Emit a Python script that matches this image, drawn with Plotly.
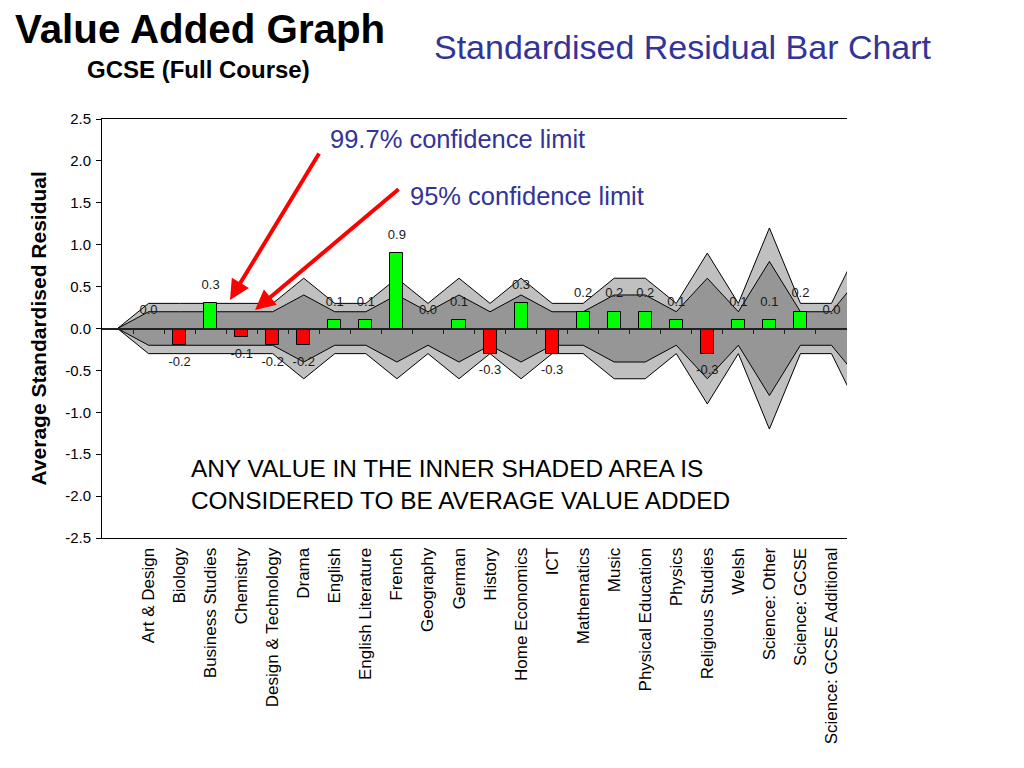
import plotly.graph_objects as go

# ---------------- data ----------------
categories = ["Art & Design", "Biology", "Business Studies", "Chemistry",
              "Design & Technology", "Drama", "English", "English Literature",
              "French", "Geography", "German", "History", "Home Economics",
              "ICT", "Mathematics", "Music", "Physical Education", "Physics",
              "Religious Studies", "Welsh", "Science: Other", "Science: GCSE",
              "Science: GCSE Additional"]
residuals = [0.0, -0.2, 0.3, -0.1, -0.2, -0.2, 0.1, 0.1, 0.9, 0.0, 0.1, -0.3,
             0.3, -0.3, 0.2, 0.2, 0.2, 0.1, -0.3, 0.1, 0.1, 0.2, 0.0]

# confidence envelopes: point 0 is the start, 1..23 the subjects, 24 the next (clipped) point
env_pos = list(range(25))
outer_upper = [0.0, 0.3, 0.3, 0.3, 0.3, 0.3, 0.6, 0.3, 0.3, 0.6, 0.3, 0.6, 0.3,
               0.6, 0.3, 0.3, 0.6, 0.6, 0.3, 0.9, 0.3, 1.2, 0.3, 0.3, 1.05]
outer_lower = [0.0, -0.3, -0.3, -0.3, -0.3, -0.3, -0.6, -0.3, -0.3, -0.6, -0.3, -0.6, -0.3,
               -0.6, -0.3, -0.3, -0.6, -0.6, -0.3, -0.9, -0.3, -1.2, -0.3, -0.3, -1.05]
inner_upper = [0.0, 0.2, 0.2, 0.2, 0.2, 0.2, 0.4, 0.2, 0.2, 0.4, 0.2, 0.4, 0.2,
               0.4, 0.2, 0.2, 0.4, 0.4, 0.2, 0.6, 0.2, 0.8, 0.2, 0.2, 0.65]
inner_lower = [0.0, -0.2, -0.2, -0.2, -0.2, -0.2, -0.4, -0.2, -0.2, -0.4, -0.2, -0.4, -0.2,
               -0.4, -0.2, -0.2, -0.4, -0.4, -0.2, -0.6, -0.2, -0.8, -0.2, -0.2, -0.65]
y_ticks = [2.5, 2.0, 1.5, 1.0, 0.5, 0.0, -0.5, -1.0, -1.5, -2.0, -2.5]

# ---------------- styling ----------------
FONT = "Liberation Sans, Arial, sans-serif"
BLUE = "#333399"
bar_pos = list(range(1, len(categories) + 1))
bar_colors = ["#00FF00" if v > 0 else "#FF0000" for v in residuals]
bar_text = [f"{v:.1f}" for v in residuals]
text_pos = ["bottom center" if v < 0 else "top center" for v in residuals]

fig = go.Figure()

# outer (99.7%) band
fig.add_trace(go.Scatter(
    x=env_pos + env_pos[::-1], y=outer_upper + outer_lower[::-1],
    fill="toself", fillcolor="#C0C0C0", mode="lines",
    line=dict(color="black", width=1), hoverinfo="skip", showlegend=False))
# inner (95%) band
fig.add_trace(go.Scatter(
    x=env_pos + env_pos[::-1], y=inner_upper + inner_lower[::-1],
    fill="toself", fillcolor="#969696", mode="lines",
    line=dict(color="black", width=1), hoverinfo="skip", showlegend=False))

# bars on overlay axes so they draw above the bands
fig.add_trace(go.Bar(
    x=bar_pos, y=residuals, width=0.42, xaxis="x2", yaxis="y2",
    marker=dict(color=bar_colors, line=dict(color="black", width=1)),
    showlegend=False))
# value labels (invisible markers give the offset from bar ends)
fig.add_trace(go.Scatter(
    x=bar_pos, y=residuals, xaxis="x2", yaxis="y2",
    mode="markers+text", marker=dict(size=16, opacity=0),
    text=bar_text, textposition=text_pos,
    textfont=dict(family=FONT, size=13, color="#1a1a1a"),
    cliponaxis=False, hoverinfo="skip", showlegend=False))

fig.update_layout(
    width=1024, height=768,
    margin=dict(l=94, r=185, t=111, b=238),
    paper_bgcolor="white", plot_bgcolor="white",
    font=dict(family=FONT, color="black"),
    xaxis=dict(range=[-0.5, 23.5], tickmode="array", tickvals=bar_pos,
               ticktext=categories, tickangle=-90, ticks="",
               tickfont=dict(size=17, family=FONT, color="black"),
               ticklabelstandoff=2, automargin=False,
               showline=True, mirror=True, linecolor="black", linewidth=1,
               showgrid=False, zeroline=False),
    yaxis=dict(range=[-2.5, 2.5], tickmode="array", tickvals=y_ticks,
               ticktext=[f"{t:.1f}" for t in y_ticks],
               ticks="outside", ticklen=5, tickcolor="black",
               ticklabelstandoff=2, automargin=False,
               tickfont=dict(size=15, family=FONT, color="black"),
               showline=True, linecolor="black", linewidth=1,
               showgrid=False, zeroline=False),
    xaxis2=dict(overlaying="x", anchor="free", position=0.5,
                range=[-0.5, 23.5], tickmode="array",
                tickvals=[i + 0.5 for i in range(23)],
                ticks="outside", ticklen=5, tickcolor="#222",
                showticklabels=False, showline=True, linecolor="#222",
                linewidth=1.5, showgrid=False, zeroline=False),
    yaxis2=dict(overlaying="y", range=[-2.5, 2.5], visible=False),
    bargap=0,
)

ann = []
ann.append(dict(text="<b>Value Added Graph</b>", x=-0.1195, y=1.214,
                xref="paper", yref="paper", xanchor="left", yanchor="middle",
                showarrow=False, font=dict(size=40.3, family=FONT, color="black")))
ann.append(dict(text="<b>GCSE (Full Course)</b>", x=0.1302, y=1.117,
                xref="paper", yref="paper", xanchor="center", yanchor="middle",
                showarrow=False, font=dict(size=24, family=FONT, color="black")))
ann.append(dict(text="Standardised Residual Bar Chart", x=0.7799, y=1.1718,
                xref="paper", yref="paper", xanchor="center", yanchor="middle",
                showarrow=False, font=dict(size=34, family=FONT, color=BLUE)))
ann.append(dict(text="<b>Average Standardised Residual</b>", x=-0.0859, y=0.5,
                xref="paper", yref="paper", xanchor="center", yanchor="middle",
                textangle=-90, showarrow=False,
                font=dict(size=21, family=FONT, color="black")))
ann.append(dict(text="99.7% confidence limit", x=0.3034, y=0.952,
                xref="paper", yref="paper", xanchor="left", yanchor="middle",
                showarrow=False, font=dict(size=25.5, family=FONT, color=BLUE)))
ann.append(dict(text="95% confidence limit", x=0.4108, y=0.816,
                xref="paper", yref="paper", xanchor="left", yanchor="middle",
                showarrow=False, font=dict(size=25.5, family=FONT, color=BLUE)))
ann.append(dict(text="ANY VALUE IN THE INNER SHADED AREA IS<br>CONSIDERED TO BE AVERAGE VALUE ADDED",
                x=0.1168, y=0.1277, xref="paper", yref="paper",
                xanchor="left", yanchor="middle", align="left",
                showarrow=False, font=dict(size=24.4, family=FONT, color="black")))
# red arrows
ann.append(dict(text="", x=0.1718, y=0.568, xref="paper", yref="paper",
                ax=90, ay=-148, showarrow=True, arrowhead=2, arrowsize=1,
                arrowwidth=4, arrowcolor="#FF0000"))
ann.append(dict(text="", x=0.2054, y=0.544, xref="paper", yref="paper",
                ax=145, ay=-122, showarrow=True, arrowhead=2, arrowsize=1,
                arrowwidth=4, arrowcolor="#FF0000"))
fig.update_layout(annotations=ann)

fig.write_html("out.html")
